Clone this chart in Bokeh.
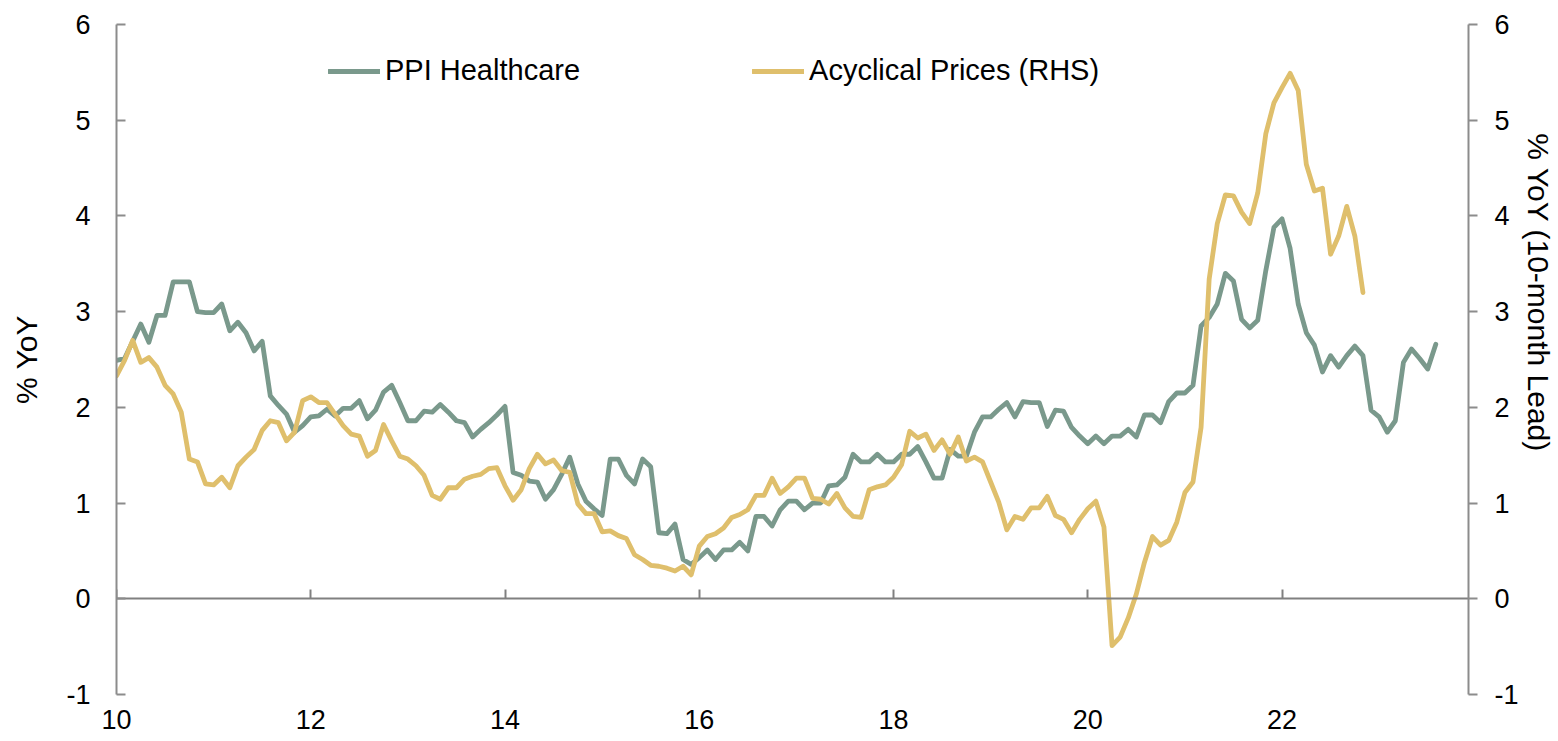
import pandas as pd
from bokeh.plotting import figure
from bokeh.models import Range1d, LinearAxis, FixedTicker, Legend, LegendItem, ColumnDataSource
from bokeh.embed import file_html
from bokeh.resources import INLINE

# ---------------- data (monthly, starting Jan 2010) ----------------
START = "2010-01"

ppi_healthcare = [
    2.49, 2.51, 2.69, 2.87, 2.68, 2.96, 2.96, 3.31, 3.31, 3.31, 3.00, 2.99,
    2.99, 3.08, 2.80, 2.89, 2.78, 2.59, 2.69, 2.12, 2.02, 1.93, 1.74, 1.81,
    1.90, 1.91, 1.98, 1.91, 1.99, 1.99, 2.07, 1.88, 1.97, 2.16, 2.23, 2.05,
    1.86, 1.86, 1.96, 1.95, 2.03, 1.95, 1.86, 1.84, 1.69, 1.77, 1.84, 1.92,
    2.01, 1.32, 1.29, 1.23, 1.22, 1.04, 1.14, 1.30, 1.48, 1.20, 1.02, 0.94,
    0.87, 1.46, 1.46, 1.29, 1.20, 1.46, 1.38, 0.69, 0.68, 0.78, 0.41, 0.36,
    0.43, 0.51, 0.41, 0.51, 0.51, 0.59, 0.50, 0.86, 0.86, 0.76, 0.93, 1.02,
    1.02, 0.93, 1.00, 1.00, 1.18, 1.19, 1.27, 1.51, 1.43, 1.43, 1.51, 1.43,
    1.43, 1.51, 1.51, 1.59, 1.43, 1.26, 1.26, 1.56, 1.49, 1.49, 1.74, 1.90,
    1.90, 1.98, 2.05, 1.90, 2.06, 2.05, 2.05, 1.80, 1.97, 1.96, 1.79, 1.70,
    1.62, 1.70, 1.62, 1.70, 1.70, 1.77, 1.69, 1.92, 1.92, 1.84, 2.06, 2.15,
    2.15, 2.23, 2.85, 2.94, 3.08, 3.40, 3.32, 2.92, 2.83, 2.91, 3.43, 3.88,
    3.97, 3.66, 3.08, 2.78, 2.65, 2.37, 2.54, 2.42, 2.54, 2.64, 2.54, 1.97,
    1.90, 1.74, 1.86, 2.47, 2.61, 2.51, 2.40, 2.66,
]

acyclical_prices = [
    2.33, 2.49, 2.70, 2.47, 2.52, 2.42, 2.23, 2.14, 1.95, 1.46, 1.43, 1.20,
    1.19, 1.27, 1.16, 1.39, 1.48, 1.56, 1.76, 1.86, 1.84, 1.65, 1.74, 2.07,
    2.11, 2.05, 2.05, 1.93, 1.81, 1.72, 1.70, 1.49, 1.55, 1.82, 1.65, 1.49,
    1.46, 1.39, 1.29, 1.08, 1.04, 1.16, 1.16, 1.25, 1.28, 1.30, 1.36, 1.37,
    1.18, 1.03, 1.14, 1.36, 1.51, 1.41, 1.45, 1.34, 1.32, 0.99, 0.89, 0.89,
    0.70, 0.71, 0.66, 0.63, 0.46, 0.41, 0.35, 0.34, 0.32, 0.29, 0.34, 0.25,
    0.55, 0.65, 0.68, 0.74, 0.85, 0.88, 0.93, 1.08, 1.08, 1.26, 1.10, 1.17,
    1.26, 1.26, 1.05, 1.04, 0.99, 1.10, 0.95, 0.86, 0.85, 1.14, 1.17, 1.19,
    1.27, 1.40, 1.75, 1.68, 1.72, 1.55, 1.66, 1.51, 1.69, 1.44, 1.48, 1.43,
    1.22, 1.01, 0.72, 0.86, 0.83, 0.95, 0.95, 1.07, 0.87, 0.83, 0.69, 0.83,
    0.94, 1.02, 0.75, -0.49, -0.40, -0.20, 0.05, 0.38, 0.65, 0.56, 0.61, 0.80,
    1.11, 1.22, 1.79, 3.34, 3.92, 4.22, 4.21, 4.04, 3.92, 4.24, 4.86, 5.18,
    5.34, 5.49, 5.31, 4.54, 4.26, 4.29, 3.60, 3.79, 4.10, 3.79, 3.20,
]

x_ticks = [10, 12, 14, 16, 18, 20, 22]
y_ticks = [-1, 0, 1, 2, 3, 4, 5, 6]
series_names = ["PPI Healthcare", "Acyclical Prices (RHS)"]
left_title = "% YoY"
right_title = "% YoY (10-month Lead)"

# ---------------- styling ----------------
GREEN = "#7A998C"
GOLD = "#DFBF6C"
AXIS = "#8C8C8C"
ZERO = "#808080"
FONT = "Liberation Sans"
TICK_FS = "27px"
TITLE_FS = "30px"
NBSP = "\u00a0"
LW = 4.8


def year_axis(n):
    d = pd.date_range(START, periods=n, freq="MS")
    return list((d.year - 2000) + (d.month - 1) / 12.0)


src_ppi = ColumnDataSource(dict(x=year_axis(len(ppi_healthcare)), y=ppi_healthcare))
src_acy = ColumnDataSource(dict(x=year_axis(len(acyclical_prices)), y=acyclical_prices))

p = figure(
    width=1557, height=740,
    x_range=Range1d(10, 23.92), y_range=Range1d(-1, 6),
    output_backend="svg", toolbar_location=None,
    x_axis_location=None, y_axis_location="left",
    min_border_left=116, min_border_right=85,
    min_border_top=24, min_border_bottom=46,
)
p.outline_line_color = None
p.xgrid.visible = False
p.ygrid.visible = False
p.background_fill_color = "white"
p.border_fill_color = "white"

p.extra_y_ranges = {"rhs": Range1d(-1, 6)}

# left axis
ly = p.yaxis[0]
ly.ticker = FixedTicker(ticks=y_ticks)
ly.major_label_overrides = {v: str(v) for v in y_ticks}
ly.axis_line_color = AXIS
ly.axis_line_width = 2
ly.major_tick_line_color = AXIS
ly.major_tick_line_width = 2
ly.major_tick_in = 9
ly.major_tick_out = 0
ly.minor_tick_line_color = None
ly.major_label_standoff = 26
ly.major_label_text_font = FONT
ly.major_label_text_font_size = TICK_FS
ly.major_label_text_color = "black"
ly.axis_label = left_title
ly.axis_label_text_font = FONT
ly.axis_label_text_font_size = TITLE_FS
ly.axis_label_text_font_style = "normal"
ly.axis_label_text_color = "black"
ly.axis_label_standoff = 20

# right axis (title shifted upward with trailing non-breaking spaces)
ry = LinearAxis(
    y_range_name="rhs",
    ticker=FixedTicker(ticks=y_ticks),
    major_label_overrides={v: str(v) for v in y_ticks},
    axis_line_color=AXIS, axis_line_width=2,
    major_tick_line_color=AXIS, major_tick_line_width=2,
    major_tick_in=0, major_tick_out=9,
    minor_tick_line_color=None,
    major_label_standoff=17,
    major_label_text_font=FONT, major_label_text_font_size=TICK_FS,
    major_label_text_color="black",
    axis_label=right_title + NBSP * 16,
    axis_label_text_font=FONT, axis_label_text_font_size=TITLE_FS,
    axis_label_text_font_style="normal", axis_label_text_color="black",
    axis_label_standoff=0,
)
p.add_layout(ry, "right")

# zero line axis with inward ticks (no labels)
zx = LinearAxis(
    fixed_location=0,
    ticker=FixedTicker(ticks=x_ticks),
    major_label_overrides={v: "" for v in x_ticks},
    axis_line_color=ZERO, axis_line_width=2,
    major_tick_line_color=ZERO, major_tick_line_width=2,
    major_tick_in=9, major_tick_out=0,
    minor_tick_line_color=None,
)
p.add_layout(zx, "below")

# bottom label-only axis
bx = LinearAxis(
    ticker=FixedTicker(ticks=x_ticks),
    major_label_overrides={v: str(v) for v in x_ticks},
    axis_line_color=None,
    major_tick_line_color=None,
    minor_tick_line_color=None,
    major_tick_in=0, major_tick_out=0,
    major_label_standoff=15,
    major_label_text_font=FONT, major_label_text_font_size=TICK_FS,
    major_label_text_color="black",
)
p.add_layout(bx, "below")

r_ppi = p.line("x", "y", source=src_ppi, line_color=GREEN, line_width=LW,
               line_join="round", line_cap="round")
r_acy = p.line("x", "y", source=src_acy, y_range_name="rhs", line_color=GOLD,
               line_width=LW, line_join="round", line_cap="round")

legend = Legend(
    items=[LegendItem(label=series_names[0], renderers=[r_ppi]),
           LegendItem(label=series_names[1], renderers=[r_acy])],
    orientation="horizontal",
    location=(212, 607),
    glyph_width=52, glyph_height=20,
    label_standoff=5, spacing=172,
    padding=0, margin=0,
    border_line_color=None, background_fill_alpha=0,
    label_text_font=FONT, label_text_font_size="29px",
    label_text_color="black",
)
p.add_layout(legend, "center")

open("out.html", "w").write(file_html(p, INLINE))
